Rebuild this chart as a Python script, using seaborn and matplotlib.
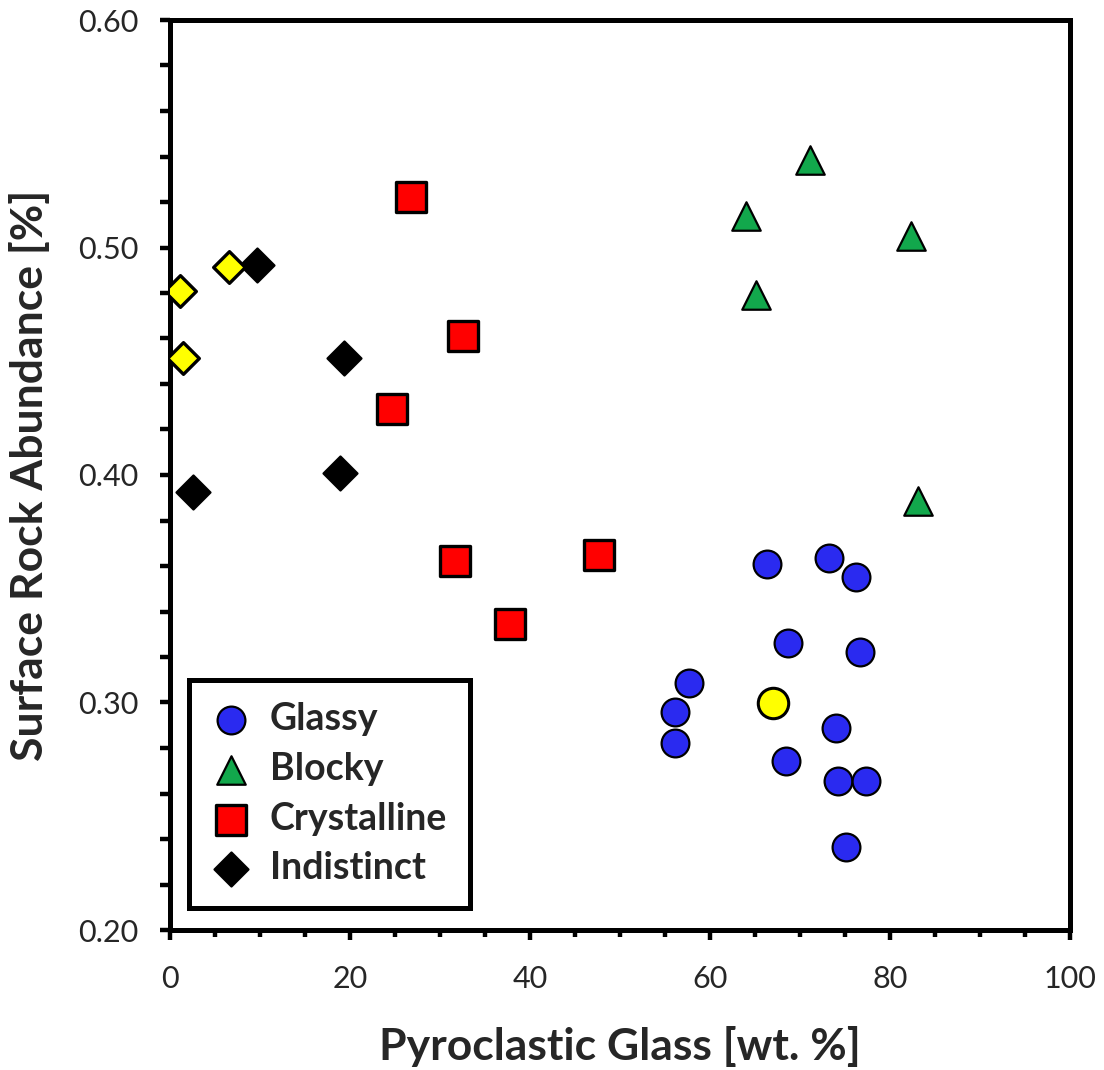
import matplotlib
matplotlib.use("Agg")
import matplotlib.pyplot as plt
import seaborn as sns
import pandas as pd
from matplotlib.ticker import MultipleLocator

# Pyroclastic glass content [wt. %] and surface rock abundance [%] per deposit type
glassy_x = [66.3, 73.2, 76.2, 68.7, 76.7, 57.7, 56.1, 56.1, 74.0, 68.4, 74.2, 77.3, 75.1]
glassy_y = [0.361, 0.3635, 0.355, 0.326, 0.322, 0.3085, 0.296, 0.282, 0.289, 0.2745, 0.2655, 0.2655, 0.2365]

blocky_x = [71.1, 64.0, 82.3, 65.1, 83.1]
blocky_y = [0.5385, 0.514, 0.505, 0.479, 0.3885]

crystalline_x = [26.8, 32.6, 24.7, 31.7, 47.7, 37.8]
crystalline_y = [0.522, 0.461, 0.429, 0.362, 0.3648, 0.3345]

indistinct_x = [9.7, 19.3, 18.9, 2.6]
indistinct_y = [0.4925, 0.4515, 0.401, 0.3925]

# highlighted (yellow) samples
hl_glassy_x = [67.0]
hl_glassy_y = [0.300]
hl_indistinct_x = [1.1, 6.6, 1.4]
hl_indistinct_y = [0.481, 0.4915, 0.4515]

categories = ["Glassy", "Blocky", "Crystalline", "Indistinct"]

df = pd.concat([
    pd.DataFrame({"glass": glassy_x, "rock": glassy_y, "type": "Glassy"}),
    pd.DataFrame({"glass": blocky_x, "rock": blocky_y, "type": "Blocky"}),
    pd.DataFrame({"glass": crystalline_x, "rock": crystalline_y, "type": "Crystalline"}),
    pd.DataFrame({"glass": indistinct_x, "rock": indistinct_y, "type": "Indistinct"}),
], ignore_index=True)

sns.set_theme(style="white")
plt.rcParams["font.family"] = ["Lato", "DejaVu Sans"]

fig = plt.figure(figsize=(11.04, 10.70), dpi=100)
ax = fig.add_axes([170 / 1104, 1 - 930 / 1070, 900 / 1104, 910 / 1070])

styles = {
    "Glassy": dict(marker="o", color="#2a2af0", s=400, lw=1.6),
    "Blocky": dict(marker="^", color="#12a84c", s=420, lw=1.6),
    "Crystalline": dict(marker="s", color="#ff0000", s=440, lw=2.4),
    "Indistinct": dict(marker="D", color="#000000", s=300, lw=1.6),
}

for cat in categories:
    st = styles[cat]
    sub = df[df["type"] == cat]
    sns.scatterplot(data=sub, x="glass", y="rock", marker=st["marker"], color=st["color"],
                    s=st["s"], edgecolor="black", linewidth=st["lw"], ax=ax,
                    label=cat, zorder=3)

sns.scatterplot(x=hl_glassy_x, y=hl_glassy_y, marker="o", color="#ffff00", s=480,
                edgecolor="black", linewidth=2.2, ax=ax, legend=False, zorder=3)
sns.scatterplot(x=hl_indistinct_x, y=hl_indistinct_y, marker="D", color="#ffff00", s=260,
                edgecolor="black", linewidth=2.4, ax=ax, legend=False, zorder=4)

ax.set_xlim(0, 100)
ax.set_ylim(0.20, 0.60)
ax.xaxis.set_major_locator(MultipleLocator(20))
ax.xaxis.set_minor_locator(MultipleLocator(5))
ax.yaxis.set_major_locator(MultipleLocator(0.10))
ax.yaxis.set_minor_locator(MultipleLocator(0.02))
ax.yaxis.set_major_formatter(plt.FormatStrFormatter("%.2f"))

for side in ["left", "right", "top", "bottom"]:
    ax.spines[side].set_linewidth(3.6)
    ax.spines[side].set_color("black")

ax.tick_params(axis="both", which="both", direction="out", color="black",
               bottom=True, left=True, top=False, right=False)
ax.tick_params(axis="both", which="major", length=7, width=3.2, labelsize=22)
ax.tick_params(axis="x", which="major", pad=18)
ax.tick_params(axis="y", which="major", pad=16)
ax.tick_params(axis="x", which="minor", length=5, width=3.2)
ax.tick_params(axis="y", which="minor", length=7, width=3.2)

ax.set_xlabel("Pyroclastic Glass [wt. %]", fontsize=32, fontweight="bold", labelpad=24)
ax.set_ylabel("Surface Rock Abundance [%]", fontsize=32, fontweight="bold", labelpad=20)

leg = ax.legend(loc="lower left", bbox_to_anchor=(0.009, 0.012),
                frameon=True, fancybox=False, framealpha=1.0,
                handlelength=1.0, handletextpad=0.55, labelspacing=0.42,
                borderpad=0.6, borderaxespad=0.3,
                prop={"weight": "bold", "size": 27})
leg.get_frame().set_linewidth(3.6)
leg.get_frame().set_edgecolor("black")

fig.savefig("out.png", dpi=100)
